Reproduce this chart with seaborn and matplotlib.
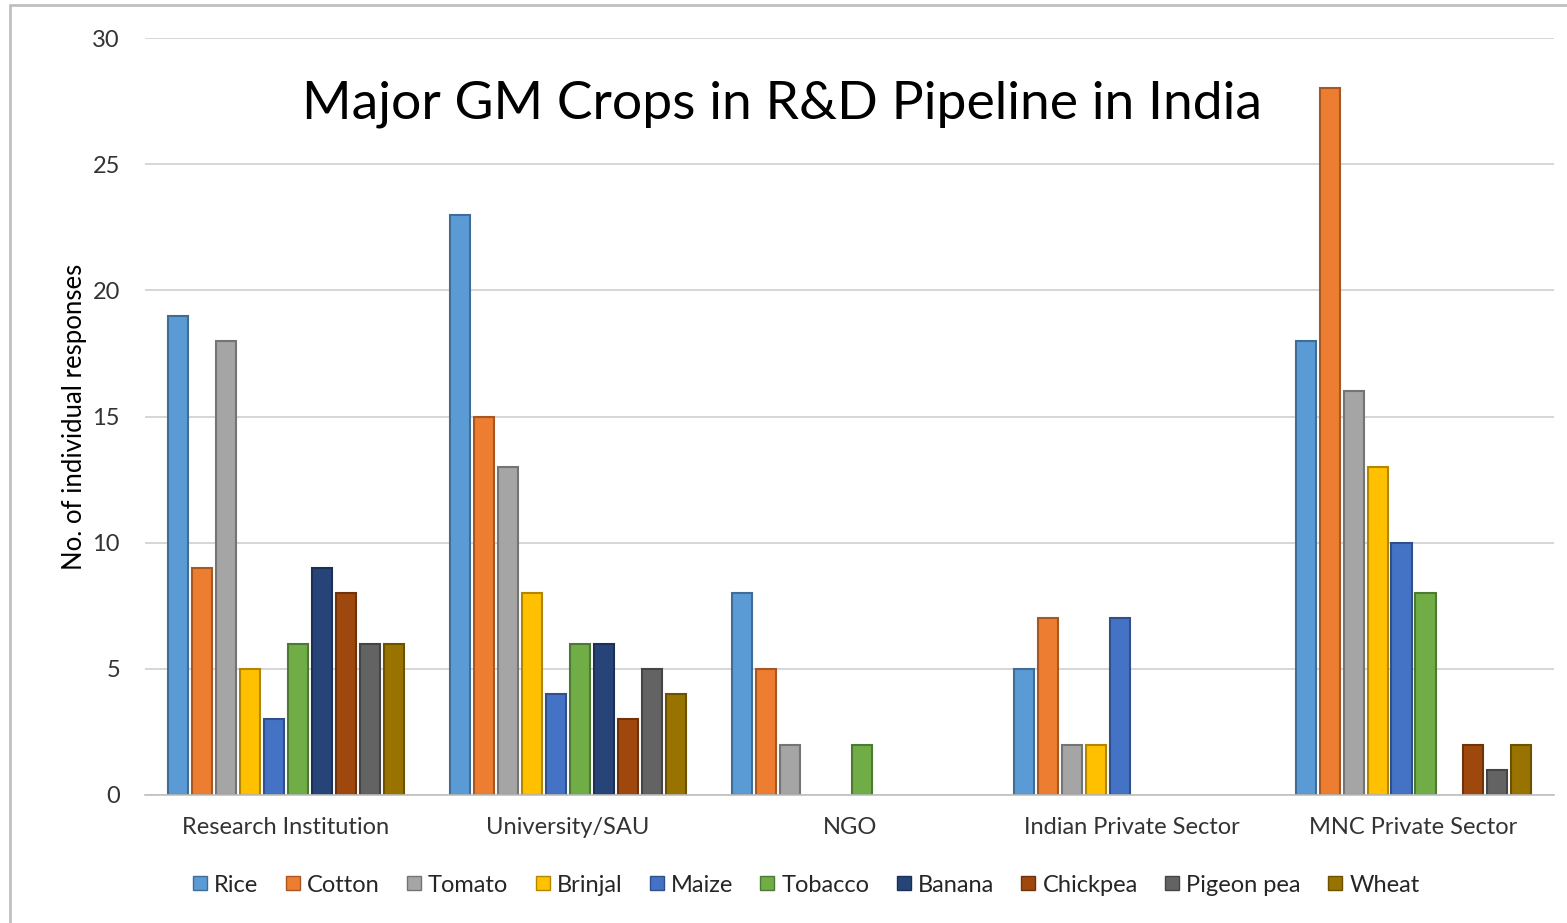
import pandas as pd
import seaborn as sns
import matplotlib.pyplot as plt
from matplotlib.lines import Line2D
from matplotlib.colors import to_rgb

# Dados do gráfico
setores = ['Research Institution', 'University/SAU', 'NGO',
           'Indian Private Sector', 'MNC Private Sector']
culturas = ['Rice', 'Cotton', 'Tomato', 'Brinjal', 'Maize',
            'Tobacco', 'Banana', 'Chickpea', 'Pigeon pea', 'Wheat']

rice = [19, 23, 8, 5, 18]
cotton = [9, 15, 5, 7, 28]
tomato = [18, 13, 2, 2, 16]
brinjal = [5, 8, 0, 2, 13]
maize = [3, 4, 0, 7, 10]
tobacco = [6, 6, 2, 0, 8]
banana = [9, 6, 0, 0, 0]
chickpea = [8, 3, 0, 0, 2]
pigeon_pea = [6, 5, 0, 0, 1]
wheat = [6, 4, 0, 0, 2]

cores = ['#5B9BD5', '#ED7D31', '#A5A5A5', '#FFC000', '#4472C4',
         '#70AD47', '#264478', '#9E480E', '#636363', '#997300']

series = [rice, cotton, tomato, brinjal, maize, tobacco,
          banana, chickpea, pigeon_pea, wheat]
linhas = []
for cultura, valores in zip(culturas, series):
    for setor, v in zip(setores, valores):
        linhas.append({'Setor': setor, 'Cultura': cultura, 'Respostas': v})
df = pd.DataFrame(linhas)

sns.set_style('white')
plt.rcParams['font.family'] = ['Lato', 'DejaVu Sans']

fig = plt.figure(figsize=(15.67, 9.23), dpi=100)
ax = fig.add_axes([0.0925, 0.1387, 0.8995, 0.8201])

sns.barplot(data=df, x='Setor', y='Respostas', hue='Cultura',
            hue_order=culturas, order=setores, palette=cores, saturation=1,
            width=0.85, gap=0.16, ax=ax, legend=False, errorbar=None)

# Bordas mais escuras nas barras
for cultura, cor, cont in zip(culturas, cores, ax.containers):
    escura = tuple(c * 0.7 for c in to_rgb(cor))
    for p in cont.patches:
        if p.get_height() == 0:
            p.set_linewidth(0)
        else:
            p.set_edgecolor(escura)
            p.set_linewidth(1.5)

ax.set_ylim(0, 30)
ax.set_xlim(-0.5, 4.5)
ax.set_yticks(range(0, 31, 5))
ax.yaxis.grid(True, color='#d0d0d0', linewidth=1.2)
ax.set_axisbelow(True)
for s in ['top', 'right', 'left']:
    ax.spines[s].set_visible(False)
ax.spines['bottom'].set_color('#bfbfbf')
ax.spines['bottom'].set_linewidth(1.2)
ax.tick_params(axis='both', length=0, labelsize=17, colors='#333333')
ax.tick_params(axis='y', pad=18)
ax.tick_params(axis='x', pad=16)
ax.set_xlabel('')
ax.set_ylabel('No. of individual responses', fontsize=18.5, color='black', labelpad=4)

ax.text(0.452, 0.912, 'Major GM Crops in R&D Pipeline in India', transform=ax.transAxes,
        ha='center', va='center', fontsize=38.5, color='black')

# Legenda na parte de baixo
handles = [Line2D([], [], marker='s', linestyle='', markersize=10,
                  markerfacecolor=c, markeredgecolor=tuple(x * 0.7 for x in to_rgb(c)))
           for c in cores]
fig.legend(handles, culturas, loc='center', bbox_to_anchor=(0.513, 0.041),
           ncol=10, frameon=False, fontsize=17, handletextpad=0.1,
           columnspacing=0.95, handlelength=1.0)

# Moldura
fig.add_artist(Line2D([10 / 1567, 10 / 1567], [0, 1 - 5 / 923],
                      transform=fig.transFigure, color='#c0c0c0', linewidth=2))
fig.add_artist(Line2D([10 / 1567, 1], [1 - 5 / 923, 1 - 5 / 923],
                      transform=fig.transFigure, color='#c0c0c0', linewidth=2))

fig.savefig('out.png', dpi=100)
